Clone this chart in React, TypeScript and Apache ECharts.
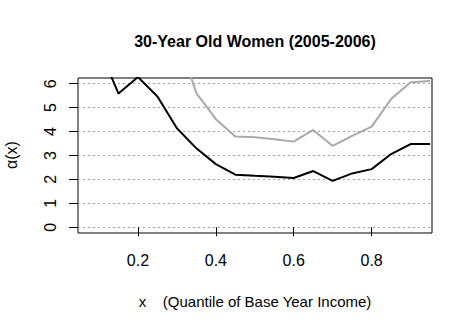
import React, { useEffect, useRef } from "react";
import * as echarts from "echarts";

const xValues = [0.1, 0.15, 0.2, 0.25, 0.3, 0.35, 0.4, 0.45, 0.5, 0.55, 0.6, 0.65, 0.7, 0.75, 0.8, 0.85, 0.9, 0.95];
const blackSeries = [7.5, 5.59, 6.28, 5.47, 4.14, 3.3, 2.64, 2.2, 2.15, 2.11, 2.06, 2.35, 1.94, 2.25, 2.43, 3.06, 3.48, 3.48];
const greySeries = [null, null, null, 9.5, 8.0, 5.61, 4.52, 3.79, 3.76, 3.68, 3.58, 4.07, 3.4, 3.82, 4.21, 5.36, 6.06, 6.11];
const xTicks = [0.2, 0.4, 0.6, 0.8];
const yTicks = [0, 1, 2, 3, 4, 5, 6];
const titleText = "30-Year Old Women (2005-2006)";
const xLabel = "x    (Quantile of Base Year Income)";
const yLabel = "α(x)";

const FONT = "'Liberation Sans', Arial, sans-serif";

export default function App() {
  const ref = useRef<HTMLDivElement>(null);
  useEffect(() => {
    if (!ref.current) return;
    const chart = echarts.init(ref.current, null, { renderer: "svg" });
    const pairs = (ys: (number | null)[]) =>
      xValues.map((x, i) => (ys[i] == null ? [x, null] : [x, ys[i]]));
    chart.setOption({
      animation: false,
      backgroundColor: "#fff",
      grid: {
        left: 78,
        top: 78,
        right: 40,
        bottom: 98,
        show: true,
        borderColor: "#000",
        borderWidth: 1,
        backgroundColor: "transparent",
      },
      xAxis: {
        type: "value",
        min: 0.046,
        max: 0.955,
        axisLine: { show: false },
        axisTick: {
          show: true,
          inside: false,
          length: 9,
          customValues: xTicks,
          lineStyle: { color: "#000", width: 1 },
        },
        axisLabel: {
          customValues: xTicks,
          margin: 19,
          color: "#000",
          fontFamily: FONT,
          fontSize: 16,
          formatter: (v: number) => v.toFixed(1),
        },
        splitLine: { show: false },
      },
      yAxis: {
        type: "value",
        min: -0.24,
        max: 6.24,
        axisLine: { show: false },
        axisTick: {
          show: true,
          inside: false,
          length: 9,
          customValues: yTicks,
          lineStyle: { color: "#000", width: 1 },
        },
        axisLabel: {
          customValues: yTicks,
          rotate: 90,
          margin: 20,
          color: "#000",
          fontFamily: FONT,
          fontSize: 16,
          formatter: (v: number) => String(Math.round(v)),
        },
        splitLine: {
          show: true,
          lineStyle: { color: "#a0a0a0", type: [2, 3], width: 1 },
        },
      },
      graphic: [
        {
          type: "text",
          x: 255,
          y: 41,
          style: {
            text: titleText,
            font: `bold 16px ${FONT}`,
            fill: "#000",
            textAlign: "center",
            textVerticalAlign: "middle",
          },
        },
        {
          type: "text",
          x: 255,
          y: 301,
          style: {
            text: xLabel,
            font: `15px ${FONT}`,
            fill: "#000",
            textAlign: "center",
            textVerticalAlign: "middle",
          },
        },
        {
          type: "text",
          x: 11,
          y: 155,
          rotation: Math.PI / 2,
          style: {
            text: yLabel,
            font: `16px ${FONT}`,
            fill: "#000",
            textAlign: "center",
            textVerticalAlign: "middle",
          },
        },
      ],
      series: [
        {
          type: "line",
          data: pairs(greySeries),
          showSymbol: false,
          symbol: "none",
          lineStyle: { color: "#a9a9a9", width: 2 },
          clip: true,
          z: 3,
        },
        {
          type: "line",
          data: pairs(blackSeries),
          showSymbol: false,
          symbol: "none",
          lineStyle: { color: "#000", width: 2 },
          clip: true,
          z: 4,
        },
      ],
    });
    return () => chart.dispose();
  }, []);
  return (
    <div
      ref={ref}
      style={{ position: "fixed", left: 0, top: 0, width: 472, height: 331 }}
    />
  );
}
